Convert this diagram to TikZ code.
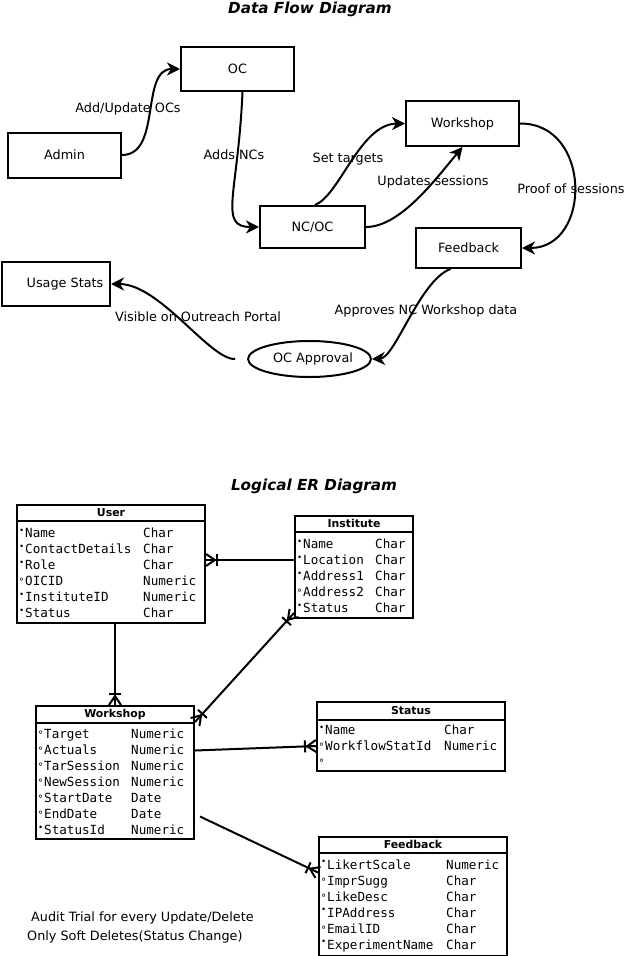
\documentclass[tikz,border=0pt]{standalone}
\usepackage{fontspec}
\setmainfont{DejaVu Sans}[BoldFont={DejaVu Sans Bold},ItalicFont={DejaVu Sans Oblique},BoldItalicFont={DejaVu Sans Bold Oblique}]
\newfontfamily\erMono{DejaVu Sans Mono}
\usetikzlibrary{arrows.meta,shapes.geometric}

\pgfdeclarearrow{
  name=Crow,
  setup code={
    \pgfarrowssettipend{0pt}
    \pgfarrowssetlineend{0pt}
    \pgfarrowssetvisualbackend{-12pt}
    \pgfarrowssetbackend{-12pt}
    \pgfarrowshullpoint{0pt}{6pt}
    \pgfarrowshullpoint{0pt}{-6pt}
    \pgfarrowshullpoint{-12pt}{6pt}
    \pgfarrowshullpoint{-12pt}{-6pt}
  },
  drawing code={
    \pgfsetdash{}{0pt}
    \pgfpathmoveto{\pgfpoint{0pt}{6pt}}
    \pgfpathlineto{\pgfpoint{-9pt}{0pt}}
    \pgfpathlineto{\pgfpoint{0pt}{-6pt}}
    \pgfusepathqstroke
    \pgfpathmoveto{\pgfpoint{-11pt}{6pt}}
    \pgfpathlineto{\pgfpoint{-11pt}{-6pt}}
    \pgfusepathqstroke
  }
}

\newlength\ermw
\newcommand\ermreq{\makebox[7pt][l]{\hspace{1pt}\raisebox{4.8pt}{\fontsize{8.5}{8.5}\selectfont •}}}
\newcommand\ermopt{\makebox[7pt][l]{\hspace{0.3pt}\raisebox{0.3pt}{\fontsize{10}{10}\selectfont °}}}
\newcommand\ermrow[3]{\strut\makebox[\ermw][l]{#1#2}#3}

\begin{document}
\begin{tikzpicture}[x=1pt,y=-1pt,font=\fontsize{12.8}{15}\selectfont,
  box/.style={draw,line width=2pt,inner sep=0pt},
  flow/.style={line width=2pt,-{Stealth[length=13pt,width=13pt,inset=4pt]}},
  lbl/.style={inner sep=0pt},
  ttl/.style={font=\fontsize{15.2}{18}\selectfont\bfseries\itshape,inner sep=0pt},
  ent/.style={draw,line width=2pt,inner sep=0pt,anchor=north west},
  enthead/.style={font=\fontsize{10.9}{13}\selectfont\bfseries,inner sep=0pt},
  entbody/.style={font=\erMono\fontsize{12.6}{16}\selectfont,align=left,inner sep=0pt,anchor=north west},
  rel/.style={line width=2pt},
  note/.style={inner sep=0pt,anchor=west}]
\useasboundingbox (0,0) rectangle (627,956);

% ---------------- Data Flow Diagram ----------------
\node[ttl] (t1) at (310,9) {Data Flow Diagram};

\node[box,minimum width=113pt,minimum height=44pt] (oc) at (237.5,69) {OC};
\node[box,minimum width=113pt,minimum height=45pt] (admin) at (64.5,155) {Admin};
\node[box,minimum width=105pt,minimum height=42pt] (nc) at (312.5,227) {NC/OC};
\node[box,minimum width=113pt,minimum height=45pt] (wk) at (462.5,123.5) {Workshop};
\node[box,minimum width=105pt,minimum height=40pt] (fb) at (468.5,248) {Feedback};
\node[box,minimum width=108pt,minimum height=44pt] (us) at (56,284) {\hspace{18pt}Usage Stats};
\node[box,ellipse,minimum width=99pt,minimum height=36pt] (ocap) at (309.5,359) {\hspace{7pt}OC Approval};

\draw[flow] (admin.east) .. controls (162,155) and (140,69) .. (oc.west);
\draw[flow] ([xshift=5pt]oc.south) .. controls (238,195) and (218,227) .. (nc.west);
\draw[flow] ([xshift=2.5pt]nc.north) .. controls (340,195) and (360,124) .. (wk.west);
\draw[flow] (nc.east) .. controls (400,227) and (435,180) .. (wk.south);
\draw[flow] (wk.east) .. controls (592,123) and (592,248) .. (fb.east);
\draw[flow] ([xshift=-18pt]fb.south) .. controls (420,280) and (395,358) .. (ocap.east);
\draw[flow] ([xshift=-12pt]ocap.west) .. controls (210,360) and (160,284) .. (us.east);

\node[lbl] (l1) at (128,109) {Add/Update OCs};
\node[lbl] (l2) at (234,155) {Adds NCs};
\node[lbl] (l3) at (348,159) {Set targets};
\node[lbl] (l4) at (433,182) {Updates sessions};
\node[lbl] (l5) at (571,189) {Proof of sessions};
\node[lbl] (l6) at (426,311) {Approves NC Workshop data};
\node[lbl] (l7) at (198,317) {Visible on Outreach Portal};

% ---------------- Logical ER Diagram ----------------
\node[ttl] (t2) at (314,486) {Logical ER Diagram};

% User
\node[ent,minimum width=188pt,minimum height=118pt] (user) at (16,504) {};
\draw[rel] ([yshift=-17pt]user.north west) -- ([yshift=-17pt]user.north east);
\node[enthead] (userH) at ([yshift=-8.5pt]user.north) {User};
\node[entbody] (userB) at ([shift={(2pt,-22.5pt)}]user.north west) {\global\ermw=125pt\relax
\ermrow\ermreq{Name}{Char}\\
\ermrow\ermreq{ContactDetails}{Char}\\
\ermrow\ermreq{Role}{Char}\\
\ermrow\ermopt{OICID}{Numeric}\\
\ermrow\ermreq{InstituteID}{Numeric}\\
\ermrow\ermreq{Status}{Char}};

% Institute
\node[ent,minimum width=118pt,minimum height=102pt] (inst) at (294,515) {};
\draw[rel] ([yshift=-17pt]inst.north west) -- ([yshift=-17pt]inst.north east);
\node[enthead] (instH) at ([yshift=-8.5pt]inst.north) {Institute};
\node[entbody] (instB) at ([shift={(2pt,-22.5pt)}]inst.north west) {\global\ermw=79pt\relax
\ermrow\ermreq{Name}{Char}\\
\ermrow\ermreq{Location}{Char}\\
\ermrow\ermreq{Address1}{Char}\\
\ermrow\ermopt{Address2}{Char}\\
\ermrow\ermreq{Status}{Char}};

% Workshop
\node[ent,minimum width=158pt,minimum height=133pt] (ws) at (35,705) {};
\draw[rel] ([yshift=-18pt]ws.north west) -- ([yshift=-18pt]ws.north east);
\node[enthead] (wsH) at ([yshift=-9pt]ws.north) {Workshop};
\node[entbody] (wsB) at ([shift={(2pt,-22.5pt)}]ws.north west) {\global\ermw=94pt\relax
\ermrow\ermopt{Target}{Numeric}\\
\ermrow\ermopt{Actuals}{Numeric}\\
\ermrow\ermopt{TarSession}{Numeric}\\
\ermrow\ermopt{NewSession}{Numeric}\\
\ermrow\ermopt{StartDate}{Date}\\
\ermrow\ermopt{EndDate}{Date}\\
\ermrow\ermreq{StatusId}{Numeric}};

% Status
\node[ent,minimum width=188pt,minimum height=69pt] (st) at (316,701) {};
\draw[rel] ([yshift=-19pt]st.north west) -- ([yshift=-19pt]st.north east);
\node[enthead] (stH) at ([yshift=-9.5pt]st.north) {Status};
\node[entbody] (stB) at ([shift={(2pt,-22.5pt)}]st.north west) {\global\ermw=126pt\relax
\ermrow\ermreq{Name}{Char}\\
\ermrow\ermopt{WorkflowStatId}{Numeric}\\
\ermrow\ermopt{}{}};

% Feedback
\node[ent,minimum width=188pt,minimum height=119pt] (fdb) at (318,835.5) {};
\draw[rel] ([yshift=-17pt]fdb.north west) -- ([yshift=-17pt]fdb.north east);
\node[enthead] (fdbH) at ([yshift=-8.5pt]fdb.north) {Feedback};
\node[entbody] (fdbB) at ([shift={(2pt,-22.5pt)}]fdb.north west) {\global\ermw=126pt\relax
\ermrow\ermreq{LikertScale}{Numeric}\\
\ermrow\ermopt{ImprSugg}{Char}\\
\ermrow\ermopt{LikeDesc}{Char}\\
\ermrow\ermreq{IPAddress}{Char}\\
\ermrow\ermopt{EmailID}{Char}\\
\ermrow\ermreq{ExperimentName}{Char}};

% relations
\draw[rel,Crow-] ([yshift=4pt]user.east) -- ([yshift=4pt]user.east -| inst.west);
\draw[rel,-Crow] (user.south -| ws.north) -- (ws.north);
\draw[rel,Crow-Crow] ([yshift=-17pt]ws.north east) -- ([yshift=6pt]inst.south west);
\draw[rel,-Crow] ([yshift=22pt]ws.east) -- ([yshift=-9.5pt]st.west);
\draw[rel,-Crow] ([shift={(5pt,-44pt)}]ws.east) -- ([yshift=23.5pt]fdb.west);

% notes
\node[note] (n1) at (31,918) {Audit Trial for every Update/Delete};
\node[note] (n2) at (27,937) {Only Soft Deletes(Status Change)};
\end{tikzpicture}
\end{document}
